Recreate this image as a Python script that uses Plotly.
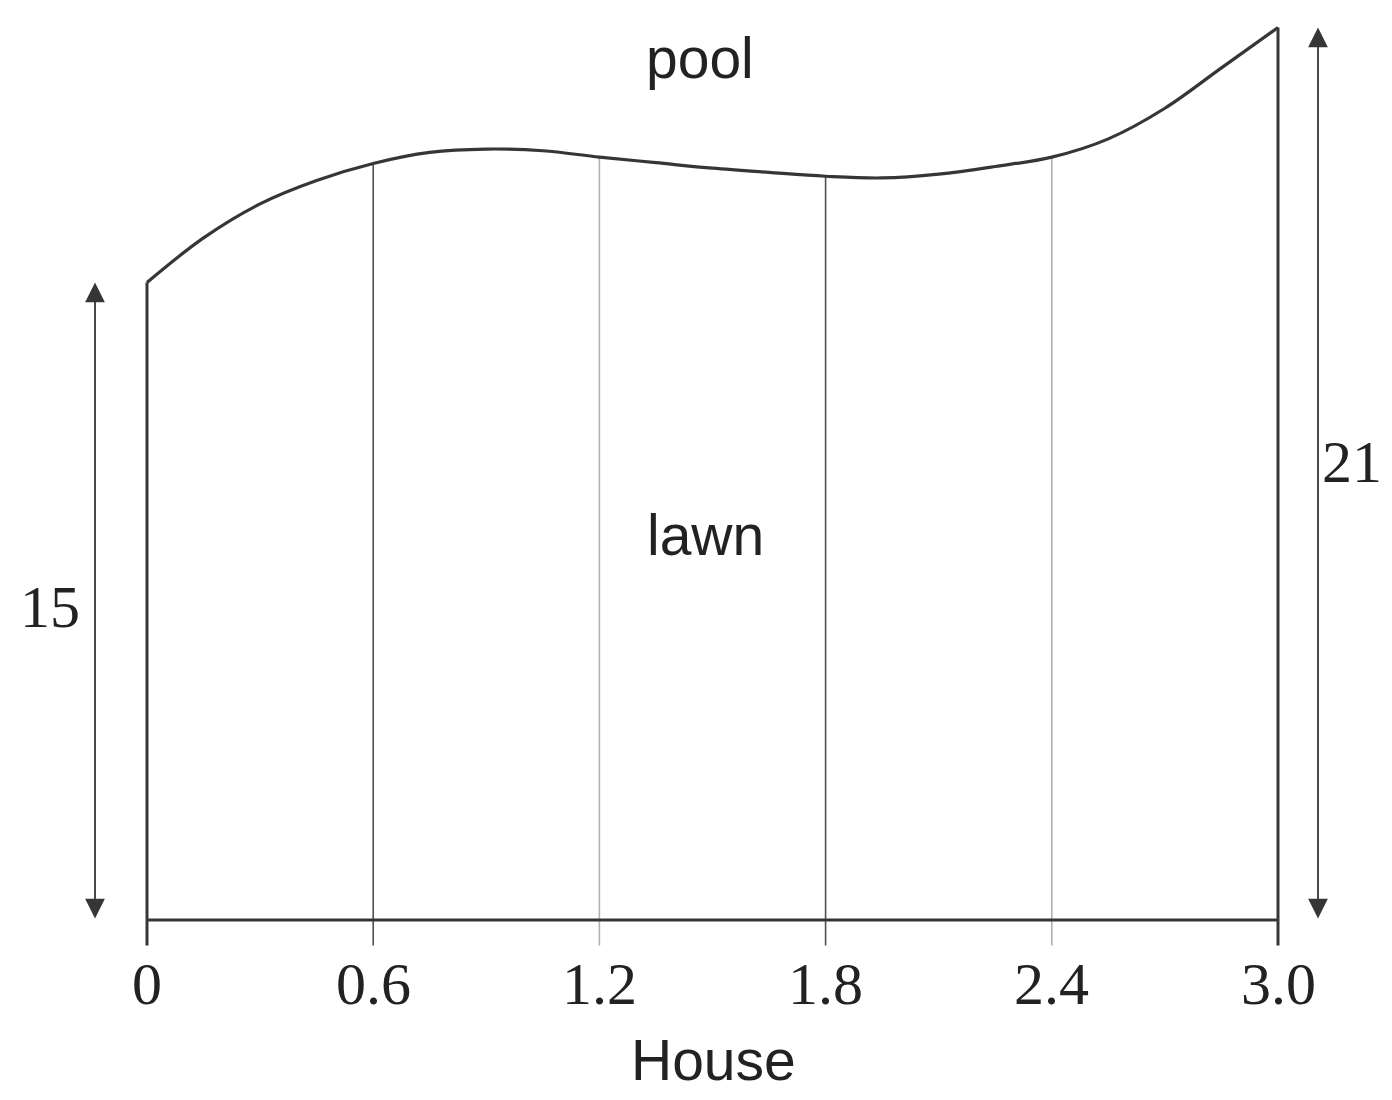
import plotly.graph_objects as go

# ---- data ----
boundary_x = [0, 0.15, 0.3, 0.45, 0.6, 0.75, 0.9, 1.05, 1.2, 1.35, 1.5, 1.65, 1.8, 1.95, 2.1, 2.25,
              2.4, 2.55, 2.7, 2.85, 3.0]
boundary_h = [15, 16.05, 16.85, 17.4, 17.8, 18.06, 18.14, 18.1, 17.95, 17.82, 17.69, 17.59, 17.5, 17.46,
              17.55, 17.73, 17.95, 18.38, 19.1, 20.05, 21]
tick_vals = [0, 0.6, 1.2, 1.8, 2.4, 3.0]
tick_text = ["0", "0.6", "1.2", "1.8", "2.4", "3.0"]
inner_x = [0.6, 1.2, 1.8, 2.4]
inner_h = [17.8, 17.95, 17.5, 17.95]
inner_col = ["#505050", "#b0b0b0", "#505050", "#b0b0b0"]
left_dim, right_dim = 15, 21
left_label, right_label = "15", "21"

# page-pixel mapping (the page body has an 8px margin)
PX0, SX = 147, 377      # x = (px - PX0) / SX
PY0, SY = 920, 42.5     # y = (PY0 - py) / SY
W, H = 1376, 1084
X0, X1 = (8 - PX0) / SX, (8 + W - PX0) / SX
Y0, Y1 = (PY0 - (8 + H)) / SY, (PY0 - 8) / SY
TICK_LEN = 0.6
EDGE = "#363636"


def px2x(p):
    return (p - PX0) / SX


def py2y(p):
    return (PY0 - p) / SY


fig = go.Figure()

for x, h, c in zip(inner_x, inner_h, inner_col):
    fig.add_trace(go.Scatter(x=[x, x], y=[-TICK_LEN, h], mode="lines",
                             line=dict(color=c, width=1.6), hoverinfo="skip"))

fig.add_trace(go.Scatter(x=boundary_x, y=boundary_h, mode="lines",
                         line=dict(color=EDGE, width=3.2, shape="spline", smoothing=1.0),
                         hoverinfo="skip"))
fig.add_trace(go.Scatter(x=[boundary_x[0], boundary_x[0]], y=[-TICK_LEN, boundary_h[0]],
                         mode="lines", line=dict(color=EDGE, width=3), hoverinfo="skip"))
fig.add_trace(go.Scatter(x=[boundary_x[-1], boundary_x[-1]], y=[-TICK_LEN, boundary_h[-1]],
                         mode="lines", line=dict(color=EDGE, width=3), hoverinfo="skip"))
fig.add_trace(go.Scatter(x=[boundary_x[0], boundary_x[-1]], y=[0, 0],
                         mode="lines", line=dict(color=EDGE, width=3), hoverinfo="skip"))

ann = []
for xa, top in [(px2x(95), left_dim), (px2x(1318), right_dim)]:
    ann.append(dict(x=xa, y=top, ax=xa, ay=0, xref="x", yref="y", axref="x", ayref="y",
                    showarrow=True, arrowside="end+start", arrowhead=2, startarrowhead=2,
                    arrowsize=2.2, startarrowsize=2.2, arrowwidth=1.8, arrowcolor=EDGE, text=""))

serif = dict(family="Liberation Serif", size=60, color="#222222")
sans = dict(family="Liberation Sans", size=57, color="#222222")
for v, t in zip(tick_vals, tick_text):
    ann.append(dict(x=v, y=py2y(984), xref="x", yref="y", text=t, showarrow=False, font=serif))
ann.append(dict(x=px2x(50), y=py2y(607), xref="x", yref="y",
                text=left_label, showarrow=False, font=serif))
ann.append(dict(x=px2x(1352), y=py2y(462), xref="x", yref="y",
                text=right_label, showarrow=False, font=serif))
ann.append(dict(x=px2x(700), y=py2y(58), xref="x", yref="y", text="pool",
                showarrow=False, font=sans))
ann.append(dict(x=px2x(705), y=py2y(535), xref="x", yref="y", text="lawn",
                showarrow=False, font=sans))
ann.append(dict(x=px2x(713), y=py2y(1060), xref="x", yref="y", text="House",
                showarrow=False, font=sans))

fig.update_layout(
    width=W, height=H, margin=dict(l=0, r=0, t=0, b=0),
    paper_bgcolor="white", plot_bgcolor="white", showlegend=False,
    annotations=ann,
    xaxis=dict(range=[X0, X1], visible=False, fixedrange=True),
    yaxis=dict(range=[Y0, Y1], visible=False, fixedrange=True),
)
fig.write_html("out.html")
